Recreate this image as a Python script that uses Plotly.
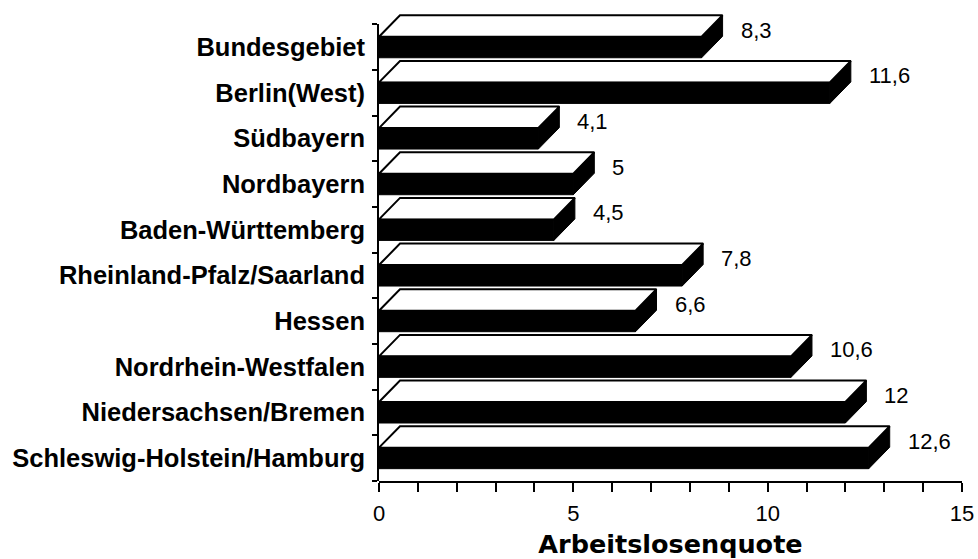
import plotly.graph_objects as go

# ---- data (top to bottom as shown) ----
regions = ["Bundesgebiet", "Berlin(West)", "Südbayern", "Nordbayern",
           "Baden-Württemberg", "Rheinland-Pfalz/Saarland", "Hessen",
           "Nordrhein-Westfalen", "Niedersachsen/Bremen",
           "Schleswig-Holstein/Hamburg"]
quote = [8.3, 11.6, 4.1, 5, 4.5, 7.8, 6.6, 10.6, 12, 12.6]
x_ticks = [0, 5, 10, 15]
x_title = "Arbeitslosenquote"

# ---- style constants (3D look) ----
H = 0.23      # half height of the front face (category units)
DX = 0.54     # depth offset in x (value units)
DY = 0.47     # depth offset in y (category units)
TOP_PAD = 0.25  # extra room above the last category for the 3D top faces

n = len(regions)
ypos = [n - 1 - i for i in range(n)]

top_x, top_y, front_x, front_y, side_x, side_y = [], [], [], [], [], []
for v, yc in zip(quote, ypos):
    top_x += [0, v, v + DX, DX, 0, None]
    top_y += [yc + H, yc + H, yc + H + DY, yc + H + DY, yc + H, None]
    front_x += [0, v, v, 0, 0, None]
    front_y += [yc - H, yc - H, yc + H, yc + H, yc - H, None]
    side_x += [v, v + DX, v + DX, v, v, None]
    side_y += [yc - H, yc - H + DY, yc + H + DY, yc + H, yc - H, None]

fig = go.Figure()
fig.add_trace(go.Scatter(x=top_x, y=top_y, mode="lines", fill="toself",
                         fillcolor="white", line=dict(color="black", width=2),
                         hoverinfo="skip", showlegend=False))
fig.add_trace(go.Scatter(x=side_x, y=side_y, mode="lines", fill="toself",
                         fillcolor="black", line=dict(color="black", width=1),
                         hoverinfo="skip", showlegend=False))
fig.add_trace(go.Scatter(x=front_x, y=front_y, mode="lines", fill="toself",
                         fillcolor="black", line=dict(color="black", width=1),
                         hoverinfo="skip", showlegend=False))

boundaries = [k - 0.5 for k in range(n + 1)]
# invisible helper trace so the boundary-tick axis is drawn
fig.add_trace(go.Scatter(x=[0] * len(boundaries), y=boundaries, yaxis="y2",
                         mode="markers", marker=dict(opacity=0),
                         hoverinfo="skip", showlegend=False))

def fmt(v):
    return ("%g" % v).replace(".", ",")

for v, yc in zip(quote, ypos):
    fig.add_annotation(x=v + DX, y=yc + H + DY * 0.3, text=fmt(v),
                       xref="x", yref="y", showarrow=False, xanchor="left",
                       yanchor="middle", xshift=16,
                       font=dict(family="Liberation Sans", size=22, color="black"))

y_lo, y_hi = -0.5, n - 0.5
full_hi = y_hi + TOP_PAD

fig.update_layout(
    width=978, height=559,
    margin=dict(l=379, r=16, t=13, b=78),
    paper_bgcolor="white", plot_bgcolor="rgba(0,0,0,0)",
    hovermode=False,
    xaxis=dict(range=[0, 15], tickvals=x_ticks, ticktext=[str(t) for t in x_ticks],
               showgrid=False, zeroline=False, showline=True, linecolor="black",
               linewidth=2, ticks="outside", ticklen=9, tickwidth=2,
               tickcolor="black", automargin=False, ticklabelstandoff=3,
               minor=dict(dtick=1, ticks="outside", ticklen=9, tickwidth=2,
                          tickcolor="black", showgrid=False),
               tickfont=dict(family="Liberation Sans", size=22, color="black"),
               title=dict(text=x_title, standoff=13,
                          font=dict(family="DejaVu Sans", size=25.5, color="black",
                                    weight="bold"))),
    yaxis=dict(range=[y_lo, full_hi], tickmode="array", tickvals=ypos,
               ticktext=regions, ticks="", showgrid=False, zeroline=False,
               showline=False, ticklabelstandoff=13, automargin=False,
               tickfont=dict(family="Liberation Sans", size=25.5, color="black",
                             weight="bold")),
    yaxis2=dict(range=[y_lo, y_hi], domain=[0, (y_hi - y_lo) / (full_hi - y_lo)],
                anchor="x", side="left", tickmode="array", tickvals=boundaries,
                showticklabels=False, ticks="outside", ticklen=5, tickwidth=2,
                tickcolor="black", showline=True, linecolor="black", linewidth=2,
                showgrid=False, zeroline=False, automargin=False),
)

fig.write_html("out.html",
               config={"displayModeBar": False, "staticPlot": True},
               post_script="document.body.style.margin='0px';"
                           "document.body.style.overflow='hidden';")
